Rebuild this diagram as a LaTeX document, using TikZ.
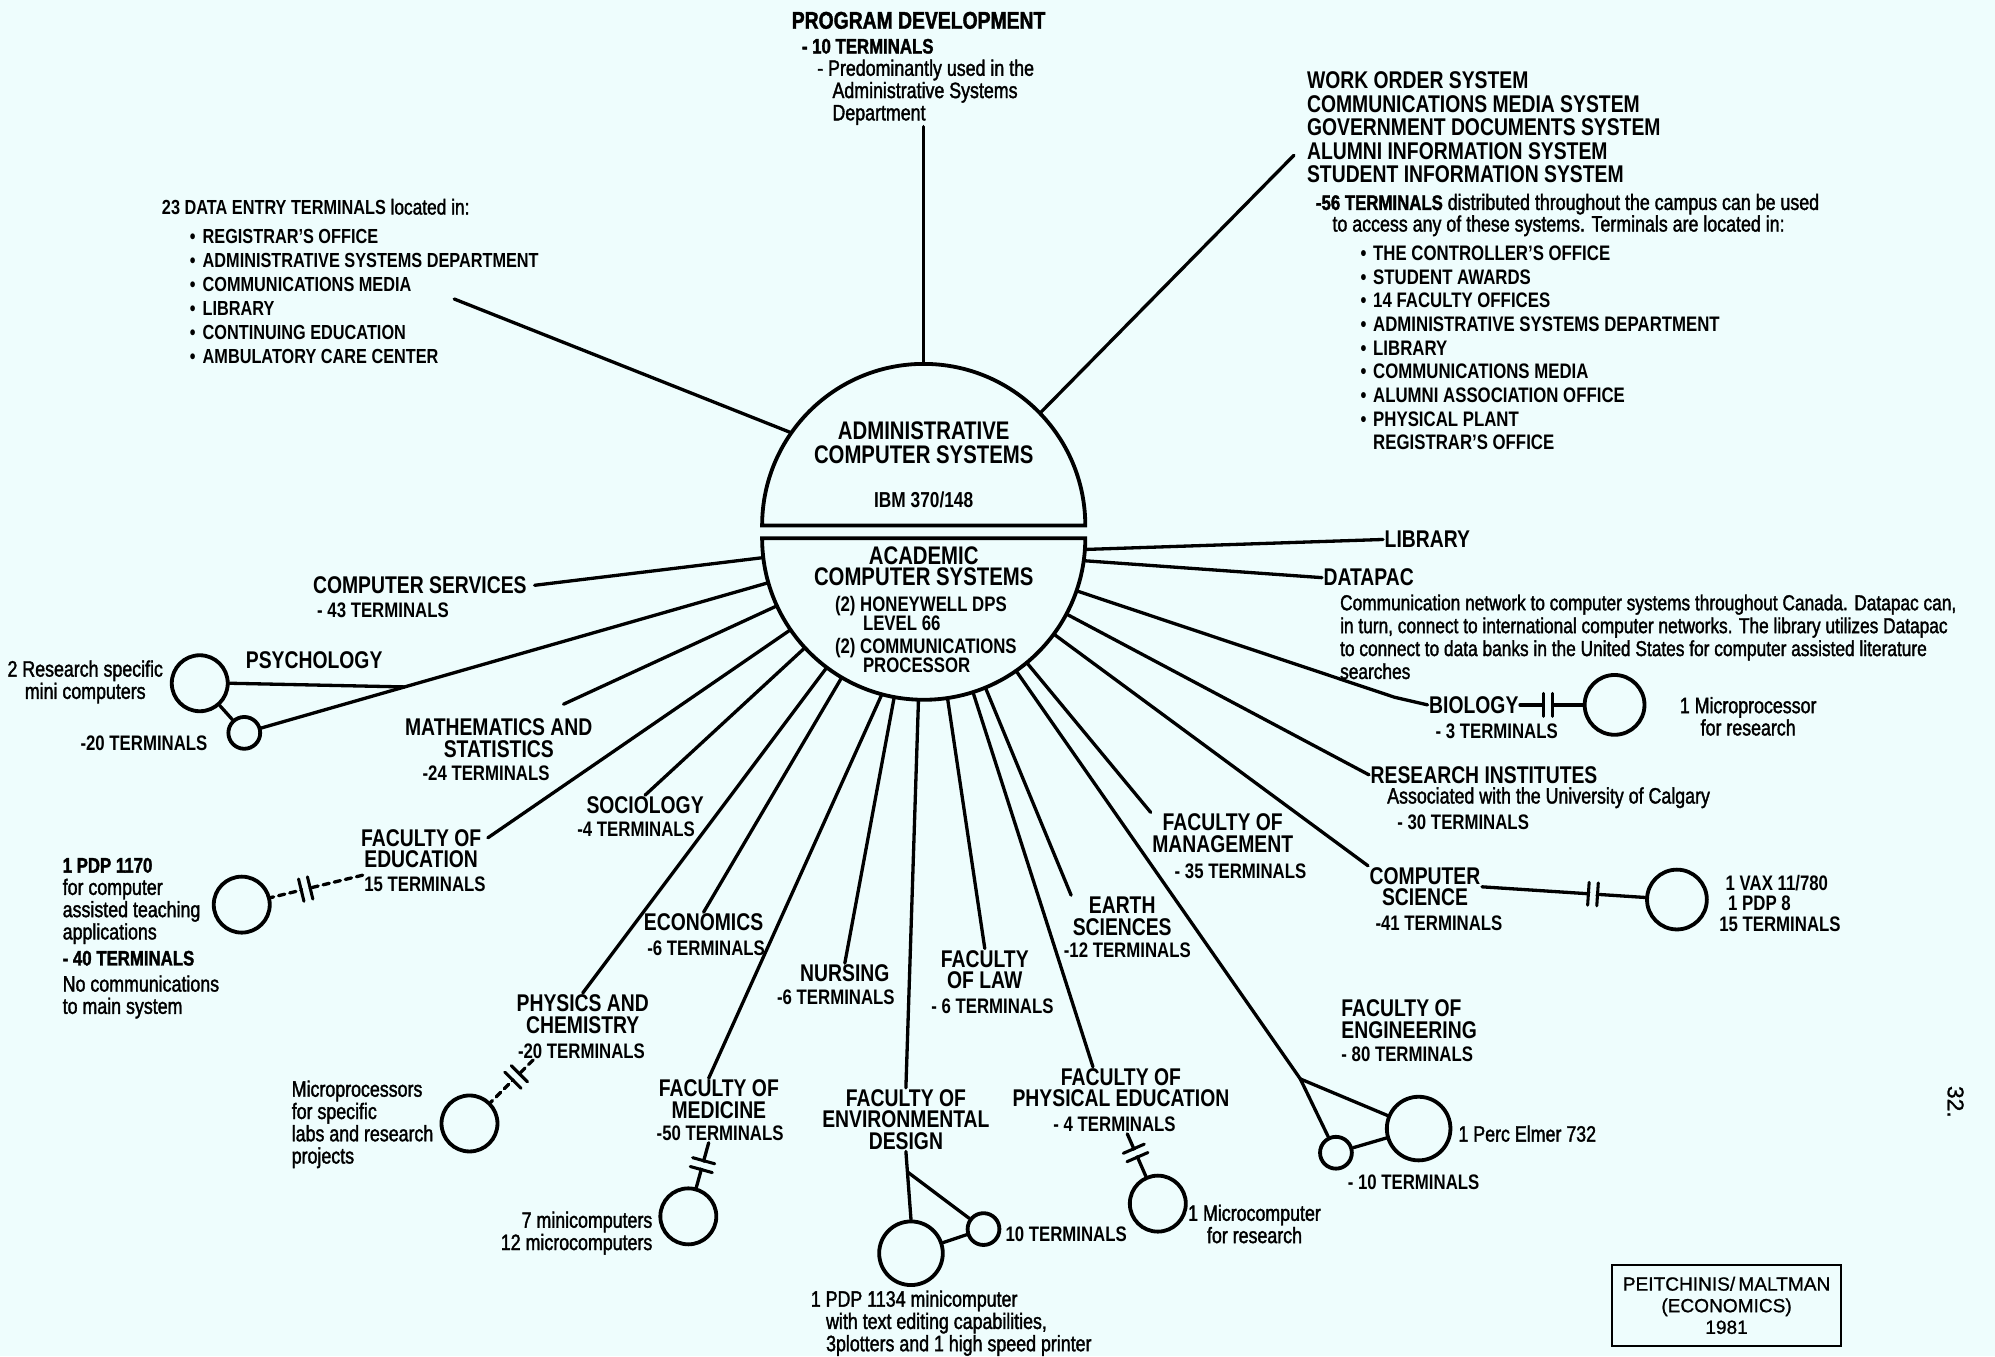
\documentclass[tikz,border=0pt]{standalone}
\usepackage{fontspec}
\setmainfont{Liberation Sans}[FakeStretch=0.8]
\newfontfamily\plainsf{Liberation Sans}[FakeBold=1]
\newfontfamily\descfont{Liberation Sans}[FakeStretch=0.8, FakeBold=1.6]
\usetikzlibrary{calc, positioning}

\definecolor{paper}{RGB}{238,253,253}

% text sizes used in the chart
\newcommand\hdf{\fontsize{19}{17}\selectfont\bfseries}
\newcommand\tmf{\fontsize{16.5}{16}\selectfont\bfseries}
\newcommand\dsf{\descfont\fontsize{17.5}{17.5}\selectfont}
\newcommand\lsf{\fontsize{16.5}{18.6}\selectfont\bfseries}
\newcommand\itm{\makebox[10pt][l]{\textbullet}}

\begin{document}
\begin{tikzpicture}[x=1pt, y=-1pt, line width=2.6pt, line cap=round,
    hd/.style={font=\hdf, align=center, inner sep=0pt},
    tm/.style={font=\tmf, align=center, inner sep=0pt},
    ds/.style={font=\dsf, align=left, inner sep=0pt},
    hub/.style={circle, minimum size=254pt, inner sep=0pt, outer sep=0pt},
    bigc/.style={circle, draw, line width=3pt, minimum size=44pt, inner sep=0pt},
    smallc/.style={circle, draw, line width=3pt, minimum size=25pt, inner sep=0pt},
    gapline/.style={dashed, dash pattern=on 5pt off 4pt},
    capgap/.pic={
      \fill[paper] (-2.2pt,-3.5pt) rectangle (2.2pt,3.5pt);
      \draw[solid, line width=2.4pt] (-3.6pt,-9pt) -- (-3.6pt,9pt)
        (3.6pt,-9pt) -- (3.6pt,9pt);
    }]

  \fill[paper] (0,0) rectangle (1568,1066);
  \useasboundingbox (0,0) rectangle (1568,1066);

  % the two halves of the central machine
  \node[hub] (hubtop) at (726,413) {};
  \node[hub] (hubbot) at (726,423) {};
  \draw[line width=3pt] (hubtop.west) arc[start angle=180, end angle=0, radius=127pt] -- cycle;
  \draw[line width=3pt] (hubbot.west) arc[start angle=180, end angle=360, radius=127pt] -- cycle;

  \node[font=\fontsize{20}{19}\selectfont\bfseries, align=center] (admintx) at (726,348)
    {ADMINISTRATIVE\\COMPUTER SYSTEMS};
  \node[font=\fontsize{17}{17}\selectfont\bfseries] (ibm) at (726,393) {IBM 370/148};
  \node[font=\fontsize{20}{17}\selectfont\bfseries, align=center] (acadtx) at (726,445)
    {ACADEMIC\\COMPUTER SYSTEMS};
  \node[font=\fontsize{16.5}{15.5}\selectfont\bfseries, align=left, anchor=north west,
    inner sep=0pt] (acadhw) at (655,467)
    {(2) HONEYWELL DPS\\\hspace*{22pt}LEVEL 66\\[2pt](2) COMMUNICATIONS\\\hspace*{22pt}PROCESSOR};

  % administrative side
  \node[ds, anchor=north west] (prog) at (621,8)
    {{\hdf PROGRAM DEVELOPMENT}\\[2pt]
     \hspace*{8pt}{\tmf - 10 TERMINALS}\\
     \hspace*{20pt}- Predominantly used in the\\
     \hspace*{32pt}Administrative Systems\\
     \hspace*{32pt}Department};

  \node[font=\fontsize{19}{18.5}\selectfont\bfseries, align=left, anchor=north west,
    inner sep=0pt] (work) at (1026,55)
    {WORK ORDER SYSTEM\\COMMUNICATIONS MEDIA SYSTEM\\GOVERNMENT DOCUMENTS SYSTEM\\
     ALUMNI INFORMATION SYSTEM\\STUDENT INFORMATION SYSTEM};
  \node[ds, anchor=north west, font=\descfont\fontsize{17.5}{17}\selectfont] (worktm) at (1033,151)
    {{\tmf -56 TERMINALS} distributed throughout the campus can be used\\
     \hspace*{13pt}to access any of these systems. Terminals are located in:};
  \node[font=\lsf, align=left, anchor=north west, inner sep=0pt] (worklst) at (1068,192)
    {\itm THE CONTROLLER'S OFFICE\\\itm STUDENT AWARDS\\\itm 14 FACULTY OFFICES\\
     \itm ADMINISTRATIVE SYSTEMS DEPARTMENT\\\itm LIBRARY\\\itm COMMUNICATIONS MEDIA\\
     \itm ALUMNI ASSOCIATION OFFICE\\\itm PHYSICAL PLANT\\\hspace*{10pt}REGISTRAR'S OFFICE};

  \node[font=\fontsize{16}{18.8}\selectfont\bfseries, align=left, anchor=north west,
    inner sep=0pt] (dataent) at (126,155)
    {23 DATA ENTRY TERMINALS {\descfont\mdseries\fontsize{17}{18.8}\selectfont located in:}\\[4pt]
     \hspace*{22pt}\itm REGISTRAR'S OFFICE\\
     \hspace*{22pt}\itm ADMINISTRATIVE SYSTEMS DEPARTMENT\\
     \hspace*{22pt}\itm COMMUNICATIONS MEDIA\\
     \hspace*{22pt}\itm LIBRARY\\
     \hspace*{22pt}\itm CONTINUING EDUCATION\\
     \hspace*{22pt}\itm AMBULATORY CARE CENTER};
  \coordinate (dataend) at (357,235);
  \coordinate (workend) at (1017,122);

  % academic side, right
  \node[hd, anchor=west] (lib) at (1087,424) {LIBRARY};
  \node[hd, anchor=west] (dpac) at (1039,454) {DATAPAC};
  \node[ds, anchor=north west, font=\descfont\fontsize{17}{18}\selectfont] (dpactx) at (1052,466)
    {Communication network to computer systems throughout Canada. Datapac can,\\
     in turn, connect to international computer networks. The library utilizes Datapac\\
     to connect to data banks in the United States for computer assisted literature\\
     searches};

  \node[hd, anchor=west] (bio) at (1122,554) {BIOLOGY};
  \node[tm, anchor=west] (biotm) at (1127,575) {- 3 TERMINALS};
  \node[bigc, minimum size=47pt] (bioC) at (1269,554) {};
  \node[ds, align=center] (biotx) at (1374,563) {1 Microprocessor\\for research};

  \node[hd, anchor=west] (resi) at (1076,609) {RESEARCH INSTITUTES};
  \node[ds, anchor=west] (resitx) at (1089,627) {Associated with the University of Calgary};
  \node[tm, anchor=west] (resitm) at (1097,646) {- 30 TERMINALS};

  \node[hd] (csci) at (1120,697) {COMPUTER\\SCIENCE};
  \node[tm] (cscitm) at (1131,726) {-41 TERMINALS};
  \node[bigc, minimum size=47pt] (csciC) at (1318,707) {};
  \node[tm, anchor=west, align=left] (cscitx) at (1350,710)
    {\hspace*{5pt}1 VAX 11/780\\\hspace*{7pt}1 PDP 8\\15 TERMINALS};

  \node[hd] (mgmt) at (961,655) {FACULTY OF\\MANAGEMENT};
  \node[tm] (mgmttm) at (975,685) {- 35 TERMINALS};

  \node[hd, align=left, anchor=west] (eng) at (1053,801) {FACULTY OF\\ENGINEERING};
  \node[tm, anchor=west] (engtm) at (1053,829) {- 80 TERMINALS};
  \coordinate (engj) at (1022,848);
  \node[smallc] (engS) at (1050,906) {};
  \node[bigc, minimum size=50pt] (engB) at (1115,887) {};
  \node[ds, anchor=west] (engtx) at (1145,891) {1 Perc Elmer 732};
  \node[tm, anchor=west] (engtm2) at (1058,929) {- 10 TERMINALS};

  \node[hd] (earth) at (882,720) {EARTH\\SCIENCES};
  \node[tm] (earthtm) at (886,747) {-12 TERMINALS};

  \node[hd] (phed) at (881,855) {FACULTY OF\\PHYSICAL EDUCATION};
  \node[tm] (phedtm) at (876,884) {- 4 TERMINALS};
  \node[bigc] (phedC) at (910,946) {};
  \node[ds, align=center] (phedtx) at (986,962) {1 Microcomputer\\for research};

  \node[hd] (law) at (774,762) {FACULTY\\OF LAW};
  \node[tm] (lawtm) at (780,791) {- 6 TERMINALS};

  % academic side, bottom
  \node[hd] (env) at (712,880) {FACULTY OF\\ENVIRONMENTAL\\DESIGN};
  \node[bigc, minimum size=50pt] (envB) at (716,985) {};
  \node[smallc] (envS) at (773,966) {};
  \node[tm, anchor=west] (envtm) at (789,970) {10 TERMINALS};
  \node[ds, anchor=north west] (envtx) at (636,1013)
    {1 PDP 1134 minicomputer\\\hspace*{12pt}with text editing capabilities,\\
     \hspace*{12pt}3plotters and 1 high speed printer};

  \node[hd] (nurs) at (664,765) {NURSING};
  \node[tm] (nurstm) at (657,784) {-6 TERMINALS};

  \node[hd] (med) at (565,864) {FACULTY OF\\MEDICINE};
  \node[tm] (medtm) at (566,891) {-50 TERMINALS};
  \node[bigc] (medC) at (541,956) {};
  \node[ds, anchor=north east, align=right] (medtx) at (514,951) {7 minicomputers\\12 microcomputers};

  \node[hd] (econ) at (553,725) {ECONOMICS};
  \node[tm] (econtm) at (555,745) {-6 TERMINALS};

  \node[hd] (phys) at (458,797) {PHYSICS AND\\CHEMISTRY};
  \node[tm] (phystm) at (457,826) {-20 TERMINALS};
  \node[bigc] (physC) at (369,883) {};
  \node[ds, anchor=north west] (phystx) at (228,848)
    {Microprocessors\\for specific\\labs and research\\projects};

  % academic side, left
  \node[hd] (soc) at (507,633) {SOCIOLOGY};
  \node[tm] (soctm) at (500,652) {-4 TERMINALS};

  \node[hd] (edu) at (331,667) {FACULTY OF\\EDUCATION};
  \node[tm] (edutm) at (334,695) {15 TERMINALS};
  \node[bigc] (eduC) at (190,711) {};
  \node[ds, anchor=north west] (edutx) at (48,673)
    {{\tmf 1 PDP 1170}\\for computer\\assisted teaching\\applications\\[3pt]
     {\tmf - 40 TERMINALS}\\[3pt]No communications\\to main system};

  \node[hd] (math) at (392,580) {MATHEMATICS AND\\STATISTICS};
  \node[tm] (mathtm) at (382,608) {-24 TERMINALS};

  \node[hd, anchor=west] (psy) at (192,519) {PSYCHOLOGY};
  \node[bigc] (psyB) at (157,537) {};
  \node[smallc] (psyS) at (192,576) {};
  \node[ds, align=center] (psytx) at (67,536) {2 Research specific\\mini computers};
  \node[tm, anchor=west] (psytm) at (62,584) {-20 TERMINALS};
  \coordinate (psyj) at ($(psyS)!0.236!(hubbot)$);

  \node[hd] (csvc) at (330,460) {COMPUTER SERVICES};
  \node[tm, anchor=west] (csvctm) at (248,480) {- 43 TERMINALS};

  \node[draw, line width=1.8pt, align=center, font=\plainsf\fontsize{15}{17}\selectfont,
    minimum width=180pt, minimum height=64pt] (credit) at (1357,1026)
    {PEITCHINIS/\,MALTMAN\\(ECONOMICS)\\1981};
  \node[rotate=-90, font=\plainsf\fontsize{18}{18}\selectfont] (pageno) at (1537,866) {32.};

  % spokes of the administrative half
  \draw (hubtop.90) -- (hubtop.90 |- prog.south);
  \draw (hubtop.145) -- (dataend);
  \draw (hubtop.44) -- (workend);

  % spokes of the academic half
  \draw (hubbot.-4) -- (lib.west);
  \draw (hubbot.-8) -- (dpac.west);
  \draw (hubbot.-19) -- ($(bio.west)+(-26,-6)$) -- (bio.west);
  \draw (hubbot) -- (resi.west);
  \draw (hubbot) -- (csci.north west);
  \draw (hubbot) -- (mgmt.north west);
  \draw (hubbot) -- (engj);
  \draw (hubbot) -- (earth.north west);
  \draw (hubbot) -- ([xshift=-22pt]phed.north);
  \draw (hubbot) -- (law.north);
  \draw (hubbot) -- (env.north);
  \draw (hubbot) -- (nurs.north);
  \draw (hubbot.-105) -- ([xshift=-8pt]med.north);
  \draw (hubbot) -- (econ.north);
  \draw (hubbot) -- (phys.north);
  \draw (hubbot) -- (soc.north);
  \draw (hubbot) -- ([shift={(4,8)}]edu.north east);
  \draw (hubbot) -- ([shift={(-24,-10)}]math.north east);
  \draw (hubbot) -- (psyS);
  \draw (hubbot) -- ([xshift=5pt]csvc.east);

  % local machines
  \draw (psyB) -- (psyS);
  \draw (psyB.east) -- (psyj);
  \draw (engj) -- (engS);
  \draw (engj) -- (engB);
  \draw (engS) -- (engB);
  \coordinate (envj) at ($(env.south)!0.3!(envB.north)$);
  \draw (env.south) -- (envB.north);
  \draw (envj) -- (envS);
  \draw (envB) -- (envS);

  \draw (bio.east) -- (bioC);
  \path (bio.east) -- (bioC) pic[pos=0.45, sloped] {capgap};
  \draw (csci.east) -- (csciC);
  \path (csci.east) -- (csciC) pic[pos=0.68, sloped] {capgap};
  \draw ([xshift=10pt]phedtm.south) -- (phedC);
  \path ([xshift=10pt]phedtm.south) -- (phedC) pic[pos=0.45, sloped] {capgap};
  \draw ([xshift=-9pt]medtm.south) -- (medC);
  \path ([xshift=-9pt]medtm.south) -- (medC) pic[pos=0.5, sloped] {capgap};
  \draw[gapline] ([xshift=-38pt]phystm.south) -- (physC);
  \path ([xshift=-38pt]phystm.south) -- (physC) pic[pos=0.4, sloped] {capgap};
  \draw[gapline] (edutm.north west) -- (eduC);
  \path (edutm.north west) -- (eduC) pic[pos=0.62, sloped] {capgap};
\end{tikzpicture}
\end{document}
